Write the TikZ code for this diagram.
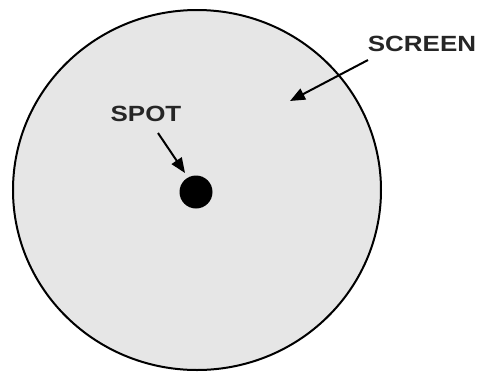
\documentclass[tikz,border=0pt]{standalone}
\usepackage{fontspec}
\newfontfamily\labfont[FakeStretch=1.18]{Liberation Sans}
\usetikzlibrary{arrows.meta,shapes.geometric}
\definecolor{screengray}{HTML}{E6E6E6}
\begin{document}
\begin{tikzpicture}[x=1pt,y=-1pt,
  lab/.style={font=\labfont\bfseries\fontsize{22}{22}\selectfont, text=black!85, inner sep=0pt},
  arr/.style={line width=2pt, -{Triangle[length=15pt,width=12pt]}}]
\useasboundingbox (0,0) rectangle (480,373);
\node[ellipse, draw, line width=2pt, fill=screengray, minimum width=368pt, minimum height=360pt, inner sep=0pt] (screen) at (197,190) {};
\node[circle, fill=black, minimum size=33pt, inner sep=0pt] (spot) at (196,192) {};
\node[lab] (screenlab) at (422,44) {SCREEN};
\node[lab] (spotlab) at (146,114) {SPOT};
\coordinate (screenstart) at (368,60);
\coordinate (screentip) at (290,101);
\coordinate (spotstart) at (158,133);
\coordinate (spottip) at (185,173);
\draw[arr] (screenstart) -- (screentip);
\draw[arr] (spotstart) -- (spottip);
\end{tikzpicture}
\end{document}
